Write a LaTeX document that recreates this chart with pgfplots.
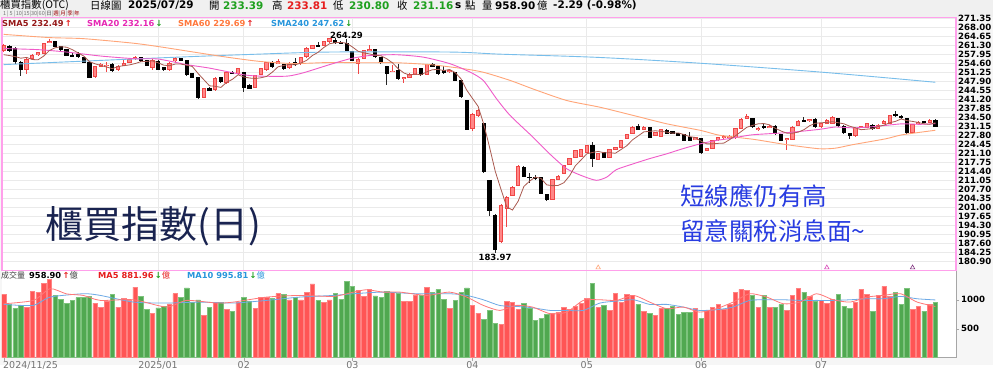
\documentclass[border=0pt]{standalone}
\usepackage{pgfplots}
\pgfplotsset{compat=1.18}
\usepackage{pgfplotstable}
\usepackage{fontspec}
\setmainfont{DejaVu Sans}
\newfontfamily\cjk{Noto Sans CJK TC}
\definecolor{upc}{RGB}{240,70,70}
\definecolor{upf}{RGB}{255,135,135}
\definecolor{vred}{RGB}{255,85,85}
\definecolor{vredl}{RGB}{255,130,130}
\definecolor{vgreen}{RGB}{80,168,80}
\definecolor{vgreenl}{RGB}{125,195,125}
\definecolor{s5c}{RGB}{170,90,80}
\definecolor{s20c}{RGB}{240,90,200}
\definecolor{s60c}{RGB}{255,165,120}
\definecolor{s240c}{RGB}{120,190,235}
\definecolor{pinkb}{RGB}{255,160,235}
\definecolor{gridc}{RGB}{234,234,234}
\definecolor{hdrbg}{RGB}{240,240,240}
\definecolor{bgc}{RGB}{246,246,246}
\definecolor{gtxt}{RGB}{30,160,30}
\definecolor{rtxt}{RGB}{230,30,30}
\definecolor{navy}{RGB}{25,35,80}
\definecolor{bluet}{RGB}{40,60,225}
\definecolor{s5t}{RGB}{150,25,25}
\definecolor{s20t}{RGB}{230,40,180}
\definecolor{s60t}{RGB}{255,120,60}
\definecolor{s240t}{RGB}{40,150,220}
\definecolor{vma5c}{RGB}{255,120,120}
\definecolor{vma10c}{RGB}{110,170,230}

\pgfplotstableread{
i o h l c v s
0 259.5 262.0 259.0 261.4 1091 257.9
1 261.1 261.6 258.9 259.3 919 257.6
2 260.3 260.8 254.6 255.2 850 257.2
3 255.2 255.5 249.9 252.4 902 256.6
4 252.2 256.8 250.6 256.2 873 256.9
5 256.4 258.0 256.0 257.6 1143 256.1
6 257.9 259.0 257.6 258.8 1131 256.0
7 258.4 262.2 258.2 262.0 1287 257.4
8 262.4 263.9 262.2 263.0 1350 259.5
9 263.0 263.2 260.8 261.0 1074 260.5
10 261.0 261.2 259.6 259.8 1005 260.9
11 259.9 260.1 257.5 257.7 942 260.7
12 257.8 258.6 257.1 257.3 988 259.8
13 258.0 259.0 256.9 257.1 1034 258.6
14 257.0 257.2 254.8 255.0 1045 257.4
15 255.2 255.4 249.3 249.5 1062 255.3
16 249.6 253.8 249.3 253.5 942 254.5
17 253.5 254.8 253.2 254.5 873 253.9
18 253.8 255.1 251.4 254.1 976 253.3
19 254.5 254.7 251.8 252.0 1086 252.7
20 252.2 253.9 251.9 253.6 873 253.5
21 253.9 256.0 253.6 254.6 1028 253.8
22 254.9 256.4 254.7 256.2 988 254.1
23 256.3 257.3 256.0 256.8 1218 254.6
24 256.8 257.0 255.3 255.5 1057 255.3
25 255.8 256.0 253.7 253.9 838 255.4
26 253.0 256.2 252.2 255.7 769 255.6
27 255.6 255.8 252.2 252.4 861 254.9
28 253.2 253.4 252.0 252.3 884 254.0
29 252.4 255.2 252.0 254.8 930 253.8
30 255.5 257.0 255.2 256.7 1103 254.4
31 256.5 256.8 255.6 255.8 1034 254.4
32 255.8 256.0 250.3 250.5 1206 254.0
33 250.8 251.0 249.3 249.5 959 253.5
34 249.5 249.7 241.5 241.8 999 250.9
35 241.9 245.5 241.7 245.2 729 248.6
36 245.4 245.8 244.3 244.6 873 246.3
37 244.8 249.5 244.5 249.2 959 246.1
38 249.5 249.7 247.4 247.7 959 245.7
39 247.3 251.5 247.0 251.2 827 247.6
40 251.3 251.9 250.8 251.0 804 248.7
41 250.8 252.9 250.5 252.7 959 250.4
42 251.2 251.5 244.0 245.5 1045 249.6
43 246.3 246.8 245.1 245.4 976 249.2
44 245.6 250.5 245.3 250.2 856 249.0
45 250.4 253.0 250.2 252.8 1034 249.3
46 252.2 255.3 252.0 255.1 1045 249.8
47 255.2 255.4 253.1 253.3 1028 251.4
48 254.5 256.2 254.3 255.4 1103 253.4
49 254.3 254.5 252.5 252.7 1086 253.9
50 252.9 255.0 252.7 254.8 999 254.3
51 255.0 256.6 254.0 254.2 1034 254.1
52 254.4 257.2 254.2 257.0 999 254.8
53 257.0 260.6 256.8 260.4 1131 255.8
54 260.1 261.6 259.9 261.4 1275 257.6
55 261.3 262.6 260.8 261.0 988 258.8
56 261.4 263.2 261.2 263.0 959 260.6
57 262.6 264.1 262.4 264.0 999 262.0
58 263.4 264.29 262.2 262.4 1103 262.4
59 262.4 263.0 261.8 262.1 1005 262.5
60 262.2 263.6 259.3 259.5 1321 262.2
61 259.0 259.2 255.6 255.8 1229 260.8
62 254.5 256.6 250.8 256.3 1160 259.2
63 256.5 259.8 256.3 259.5 1057 258.6
64 259.6 261.6 259.4 260.0 1172 258.2
65 259.8 260.0 256.8 257.0 1068 257.7
66 257.0 257.2 254.7 254.9 1034 257.5
67 253.6 253.8 246.7 250.8 1149 256.4
68 251.5 253.9 251.3 251.8 1120 254.9
69 252.0 254.5 248.7 248.9 1114 252.7
70 248.9 249.6 247.5 249.3 976 251.1
71 249.5 250.9 249.3 250.6 971 250.3
72 250.5 253.1 250.3 252.9 1074 250.7
73 252.9 253.1 250.2 250.4 1074 250.4
74 250.4 254.5 250.2 254.2 1218 251.5
75 254.2 254.8 253.4 253.6 1126 252.3
76 253.5 254.0 250.6 250.8 1172 252.4
77 252.0 253.7 251.0 251.2 1011 252.0
78 251.4 252.3 251.2 252.0 856 252.4
79 251.2 251.4 248.1 248.3 988 251.2
80 248.3 248.5 241.8 242.1 1120 248.9
81 240.8 241.0 229.8 230.0 1206 244.7
82 230.3 236.0 229.5 235.5 902 241.6
83 235.1 237.6 234.8 237.1 769 238.6
84 232.1 232.4 213.9 214.1 655 231.8
85 211.0 211.3 197.6 199.8 815 223.3
86 197.9 198.3 183.97 185.2 586 214.3
87 188.0 202.0 187.7 201.6 574 207.6
88 200.4 205.2 193.5 204.7 970 201.1
89 205.4 208.8 205.0 208.3 948 199.9
90 209.1 216.6 208.8 216.2 827 203.2
91 216.0 216.4 212.2 212.5 931 208.7
92 212.3 213.6 209.9 212.0 845 210.7
93 212.0 212.8 211.2 211.8 643 212.2
94 212.1 212.4 205.8 206.1 672 211.7
95 205.7 206.0 203.3 203.9 746 209.3
96 203.9 211.6 203.6 211.3 769 209.0
97 211.4 212.8 211.1 212.5 786 209.1
98 213.6 216.9 213.3 216.6 872 210.1
99 217.0 219.5 216.8 219.2 827 212.7
100 219.6 222.5 219.4 222.2 884 216.4
101 220.0 222.8 219.8 222.5 931 218.6
102 221.5 224.2 221.3 224.0 1028 220.9
103 224.1 225.3 215.9 219.2 1287 221.4
104 218.8 221.3 218.5 221.0 862 221.8
105 221.4 221.7 219.4 219.6 902 221.3
106 219.6 222.8 219.4 222.5 815 221.3
107 222.5 223.6 222.3 223.3 1103 221.1
108 223.3 226.2 223.1 225.9 959 222.5
109 226.6 228.4 226.4 228.1 1091 223.9
110 228.5 231.1 228.3 230.8 1080 226.1
111 231.1 231.9 229.8 230.0 919 227.6
112 230.0 231.1 229.8 230.8 798 229.1
113 230.8 231.0 226.8 227.0 758 229.3
114 227.8 229.2 227.6 228.9 729 229.5
115 227.4 230.3 227.2 230.0 845 229.3
116 229.6 230.2 228.3 228.5 845 229.0
117 229.2 229.5 228.3 228.5 890 228.6
118 228.5 228.8 227.6 227.8 741 228.7
119 228.1 228.4 225.7 225.9 786 228.1
120 227.0 228.9 225.7 225.9 786 227.3
121 226.2 227.3 226.0 227.0 855 227.0
122 226.6 226.8 220.8 221.4 672 225.6
123 222.2 223.1 221.9 222.9 815 224.6
124 222.9 226.2 222.7 225.9 872 224.6
125 226.0 227.3 225.8 227.0 914 224.8
126 226.8 227.8 226.6 227.5 827 224.9
127 227.1 228.0 226.9 227.5 919 226.2
128 226.8 230.6 226.6 230.3 1126 227.6
129 230.3 234.1 230.1 233.8 1178 229.2
130 234.0 235.6 233.8 235.0 1160 230.8
131 234.0 234.3 230.7 230.9 1074 231.5
132 230.0 230.9 229.6 230.5 862 232.1
133 231.3 232.1 230.5 230.7 1074 232.2
134 230.7 231.6 230.5 231.3 873 231.7
135 231.3 231.5 228.2 228.4 862 230.4
136 228.1 228.3 225.7 225.9 914 229.4
137 226.0 226.9 222.2 226.6 815 228.6
138 226.3 231.1 226.1 230.9 1074 228.6
139 231.3 233.4 231.1 233.1 1189 229.0
140 233.4 234.6 232.8 233.0 1131 229.9
141 233.1 233.8 232.9 233.6 1057 231.4
142 233.6 234.3 230.7 230.9 970 232.3
143 230.9 232.4 230.7 232.1 988 232.5
144 232.3 233.8 232.1 233.5 931 232.6
145 232.3 234.9 232.1 234.6 1000 232.9
146 234.0 234.3 231.0 231.25 1091 232.5
147 231.25 231.5 228.6 228.8 890 232.1
148 228.4 228.6 226.5 227.8 855 231.2
149 227.5 230.9 227.3 230.6 959 230.6
150 230.6 231.3 230.4 231.0 1172 229.9
151 230.6 232.4 230.4 232.1 1091 230.1
152 231.7 232.0 230.0 230.2 798 230.3
153 230.2 232.0 230.0 231.7 1074 231.1
154 232.1 233.4 231.9 233.1 1229 231.6
155 232.1 235.5 231.9 235.2 1062 232.5
156 235.6 237.0 234.8 235.0 1120 233.0
157 235.0 235.3 234.2 234.4 919 233.9
158 234.0 234.3 228.6 228.8 1189 233.3
159 228.8 232.1 228.6 231.8 827 233.0
160 232.0 233.0 231.8 232.8 890 232.6
161 232.9 233.2 232.4 232.6 804 232.1
162 232.6 233.8 232.4 233.45 914 231.9
163 233.39 233.81 230.80 231.16 958.9 232.49
}\ohlc

\pgfplotstableread{
i v
0 260.2
6 259.8
11 258.9
17 257.4
23 256.4
27 256.3
32 254.2
36 252.9
42 250.4
45 249.9
49.6 249.9
52.5 251.2
57 254.2
60.6 256.4
64 257.6
68.7 257.9
73.4 257.0
78 254.6
81.6 251.4
83.9 248.3
86.2 241.5
88.6 235.2
92.6 227.1
95.5 220.9
98.5 215.3
101.4 212.5
103.7 211.0
105.5 212.2
107.2 215.0
110.2 217.2
113 219.1
116 220.9
118.8 222.8
122 224.7
124.7 225.9
127 226.6
131 228.0
137 228.8
142.6 230.0
145.5 230.9
148.5 230.6
151.4 230.9
154.3 231.5
157.2 232.1
160.2 231.9
163 232.16
}\smatwenty

\pgfplotstableread{
i v
0 265.5
8 264.3
14 263.9
22.7 262.2
27.5 260.8
33.2 258.9
39 257.0
44.8 255.4
50.7 254.6
57 255.0
63 254.9
68.7 254.9
74.6 254.2
80.4 252.7
84 251.3
88.6 248.3
93 244.8
98.5 240.8
104.3 238.3
110.2 235.2
116 232.1
122 229.6
125.3 227.8
131.2 226.3
137 224.3
142.6 222.8
145.5 223.0
148.5 224.3
154.3 226.5
157.2 228.0
163 229.69
}\smasixty

\pgfplotstableread{
i v
0 254.2
27 256.7
43 258.0
57 258.9
78 258.9
87 258.1
104 256.9
122 254.7
143 251.4
163 247.62
}\smatwoforty

\pgfplotstableread{
i v
0 930
5.2 988
8.1 1190
11 1100
13.9 1074
16.9 988
22.7 999
28.5 873
32 988
37.3 942
40.2 959
46 1045
51.8 1074
57.7 1057
61.2 1131
63.5 1172
66.4 1131
69.3 1131
74 1074
78 1131
81 1045
83.9 902
86.8 815
89.7 902
92.5 873
95.6 758
98.5 786
101.4 988
104.3 999
107.2 988
110.2 1074
113 959
116 845
118.9 873
121.7 786
124.7 845
127.6 959
130.5 1103
133.5 1045
136.4 930
139.3 959
142.2 1103
145.1 999
148.1 959
151 1045
153.9 1074
156.9 1103
159.8 959
163 881.96
}\vmafive

\pgfplotstableread{
i v
0 919
5.2 902
8.1 1045
14 1103
16.9 1074
22.7 959
28.5 942
34.3 959
40.2 942
46 988
51.8 1045
57.7 1074
61.2 1103
66.4 1131
72.2 1103
78 1103
81 1074
83.9 999
86.8 900
89.7 884
92.5 861
95.6 815
98.5 815
101.4 815
104.3 942
107.2 976
110.2 999
113 919
116 919
118.9 873
121.7 815
124.7 827
127.6 873
130.5 988
133.5 999
136.4 999
139.3 988
142.2 988
145.1 988
148.1 999
151 1016
153.9 1016
156.9 1057
159.8 1016
163 995.81
}\vmaten

\newcommand\tickf{\bfseries\fontsize{8.6}{9}\selectfont}
\newcommand\hdrn{\bfseries\fontsize{10.4}{12}\selectfont}
\newcommand\hdrc{\cjk\fontsize{10.4}{12}\selectfont}
\newcommand\legf{\bfseries\fontsize{8.3}{9}\selectfont}

\begin{document}
\begin{tikzpicture}
\begin{scope}[x=1pt,y=-1pt]
\useasboundingbox (0,0) rectangle (993,365);
\fill[bgc] (0,0) rectangle (993,365);
\fill[hdrbg] (0,0) rectangle (993,17);
\end{scope}

% ---------- price panel ----------
\begin{axis}[
  at={(2pt,-17pt)}, anchor=north west, scale only axis,
  width=954pt, height=253pt,
  xmin=-0.3, xmax=166.6, ymin=177.36, ymax=271.84,
  axis background/.style={fill=white},
  axis line style={draw=pinkb, line width=1.3pt},
  xtick={27,42,61,82,102,122,143}, xticklabels={},
  xmajorgrids, ymajorgrids,
  major grid style={draw=gridc, line width=0.7pt},
  major tick length=0pt,
  ytick={180.90,184.25,187.60,190.95,194.30,197.65,201.00,204.35,207.70,211.05,214.40,217.75,221.10,224.45,227.80,231.15,234.50,237.85,241.20,244.55,247.90,251.25,254.60,257.95,261.30,264.65,268.00,271.35},
  yticklabel pos=right,
  yticklabel style={font=\tickf, anchor=west, inner sep=0pt, xshift=2pt,
     /pgf/number format/fixed, /pgf/number format/fixed zerofill, /pgf/number format/precision=2},
  /pgf/number format/assume math mode=true,
  scaled y ticks=false,
  unbounded coords=discard,
]
% up candles: wick, body border, body fill
\addplot[draw=none, mark=none, forget plot,
  restrict expr to domain={\thisrow{c}-\thisrow{o}}{0:1000},
  error bars/.cd, y dir=both, y explicit, error mark=none,
  error bar style={line width=1pt, draw=upc}]
  table[x=i, y=c, y error plus expr=\thisrow{h}-\thisrow{c}, y error minus expr=\thisrow{c}-\thisrow{l}]{\ohlc};
\addplot[draw=none, mark=none, forget plot,
  restrict expr to domain={\thisrow{c}-\thisrow{o}}{0:1000},
  error bars/.cd, y dir=both, y explicit, error mark=none,
  error bar style={line width=4.4pt, draw=upc}]
  table[x=i, y expr=(\thisrow{o}+\thisrow{c})/2, y error expr={abs(\thisrow{c}-\thisrow{o})/2+0.12}]{\ohlc};
\addplot[draw=none, mark=none, forget plot,
  restrict expr to domain={\thisrow{c}-\thisrow{o}}{0:1000},
  error bars/.cd, y dir=both, y explicit, error mark=none,
  error bar style={line width=2.4pt, draw=upf}]
  table[x=i, y expr=(\thisrow{o}+\thisrow{c})/2, y error expr={max(abs(\thisrow{c}-\thisrow{o})/2-0.25,0.01)}]{\ohlc};
% down candles
\addplot[draw=none, mark=none, forget plot,
  restrict expr to domain={\thisrow{c}-\thisrow{o}}{-1000:0},
  error bars/.cd, y dir=both, y explicit, error mark=none,
  error bar style={line width=1pt, draw=black!85}]
  table[x=i, y=c, y error plus expr=\thisrow{h}-\thisrow{c}, y error minus expr=\thisrow{c}-\thisrow{l}]{\ohlc};
\addplot[draw=none, mark=none, forget plot,
  restrict expr to domain={\thisrow{c}-\thisrow{o}}{-1000:0},
  error bars/.cd, y dir=both, y explicit, error mark=none,
  error bar style={line width=4.2pt, draw=black}]
  table[x=i, y expr=(\thisrow{o}+\thisrow{c})/2, y error expr={abs(\thisrow{c}-\thisrow{o})/2+0.12}]{\ohlc};
% moving averages
\addplot[s240c, line width=0.9pt, mark=none, smooth, tension=0.5] table[x=i,y=v]{\smatwoforty};
\addplot[s60c, line width=0.9pt, mark=none, smooth, tension=0.4] table[x=i,y=v]{\smasixty};
\addplot[s20c, line width=0.9pt, mark=none, smooth, tension=0.4] table[x=i,y=v]{\smatwenty};
\addplot[s5c, line width=0.8pt, mark=none] table[x=i,y=s]{\ohlc};
% signal triangles
\addplot[only marks, mark=triangle, mark size=2.6pt, mark options={draw=s60c, line width=0.6pt}] coordinates {(104,178.4)};
\addplot[only marks, mark=triangle, mark size=2.6pt, mark options={draw=s20c!80!violet, line width=0.6pt}] coordinates {(144,178.4)};
\addplot[only marks, mark=triangle, mark size=2.6pt, mark options={draw=violet!60!gray, line width=0.6pt}] coordinates {(159,178.4)};
\end{axis}

% ---------- volume panel ----------
\begin{axis}[
  at={(2pt,-271pt)}, anchor=north west, scale only axis,
  width=954pt, height=86.3pt,
  xmin=-0.3, xmax=166.6, ymin=0, ymax=1488,
  axis background/.style={fill=white},
  axis x line=bottom, axis y line=right,
  axis line style={draw=black!35, -},
  xtick={27,42,61,82,102,122,143}, xticklabels={2025/01,02,03,04,05,06,07},
  xticklabel style={font=\fontsize{9.5}{10}\selectfont, text=black!55, anchor=north, inner sep=1pt},
  xmajorgrids, major grid style={draw=gridc, line width=0.7pt},
  ytick={500,1000},
  yticklabel style={font=\tickf, anchor=west, inner sep=0pt, xshift=2pt, /pgf/number format/1000 sep={}},
  /pgf/number format/assume math mode=true,
  tick align=outside, major tick length=3pt, tick style={draw=black!35},
  scaled y ticks=false,
  unbounded coords=discard,
]
\addplot[ybar, bar width=4.4pt, bar shift=0pt, fill=vred, draw=vredl, line width=0.5pt,
  restrict expr to domain={\thisrow{c}-\thisrow{o}}{0:1000}] table[x=i,y=v]{\ohlc};
\addplot[ybar, bar width=4.4pt, bar shift=0pt, fill=vgreen, draw=vgreenl, line width=0.5pt,
  restrict expr to domain={\thisrow{c}-\thisrow{o}}{-1000:0}] table[x=i,y=v]{\ohlc};
\addplot[vma10c, line width=0.8pt, mark=none, smooth, tension=0.4] table[x=i,y=v]{\vmaten};
\addplot[vma5c, line width=0.8pt, mark=none, smooth, tension=0.4] table[x=i,y=v]{\vmafive};
\end{axis}

\begin{scope}[x=1pt,y=-1pt]
% first date tick and label
\draw[black!35] (3.7,357.3) -- (3.7,360.3);
\node[anchor=north west, inner sep=1pt, font=\fontsize{9.5}{10}\selectfont, text=black!55] at (2,360.3) {2024/11/25};

% header
\node[anchor=west, inner sep=0pt] at (0,5) {\hdrc 櫃買指數(OTC)};
\node[anchor=west, inner sep=0pt] at (90,5) {\hdrc 日線圖};
\node[anchor=west, inner sep=0pt] at (128,5) {\hdrn 2025/07/29};
\node[anchor=west, inner sep=0pt] at (209,5) {\hdrc 開};
\node[anchor=west, inner sep=0pt, text=gtxt] at (223,5) {\hdrn 233.39};
\node[anchor=west, inner sep=0pt] at (272,5) {\hdrc 高};
\node[anchor=west, inner sep=0pt, text=rtxt] at (287,5) {\hdrn 233.81};
\node[anchor=west, inner sep=0pt] at (333,5) {\hdrc 低};
\node[anchor=west, inner sep=0pt, text=gtxt] at (349,5) {\hdrn 230.80};
\node[anchor=west, inner sep=0pt] at (397,5) {\hdrc 收};
\node[anchor=west, inner sep=0pt, text=gtxt] at (413,5) {\hdrn 231.16};
\node[anchor=west, inner sep=0pt] at (455,5) {\hdrn s};
\node[anchor=west, inner sep=0pt] at (465,5) {\hdrc 點};
\node[anchor=west, inner sep=0pt] at (482,5) {\hdrc 量};
\node[anchor=west, inner sep=0pt] at (495,5) {\hdrn 958.90};
\node[anchor=west, inner sep=0pt] at (537,5) {\hdrc 億};
\node[anchor=west, inner sep=0pt] at (553,5) {\hdrn -2.29 (-0.98\%)};
% period buttons
\node[anchor=west, inner sep=0pt, text=black!55] at (3,13.2) {\cjk\fontsize{5.5}{6}\selectfont 1\,|\,5\,|\,10|15|30|60|\textcolor{black!70}{日}|\textcolor{red!60!black}{週}|\textcolor{red!60!black}{月}|\textcolor{red!60!black}{季}|\textcolor{red!60!black}{年}};

% SMA legend
\node[anchor=west, inner sep=0pt, text=s5t] at (2,22.7) {\legf SMA5 232.49\,\textcolor{rtxt}{↑}};
\node[anchor=west, inner sep=0pt, text=s20t] at (87,22.7) {\legf SMA20 232.16\,\textcolor{gtxt}{↓}};
\node[anchor=west, inner sep=0pt, text=s60t] at (178,22.7) {\legf SMA60 229.69\,\textcolor{rtxt}{↑}};
\node[anchor=west, inner sep=0pt, text=s240t] at (271,22.7) {\legf SMA240 247.62\,\textcolor{gtxt}{↓}};

% extreme labels
\node[inner sep=0pt] at (346.5,35.5) {\bfseries\fontsize{8.5}{9}\selectfont 264.29};
\node[inner sep=0pt] at (495,257) {\bfseries\fontsize{8.5}{9}\selectfont 183.97};

% volume legend
\node[anchor=west, inner sep=0pt, text=black!75] at (1,275) {\cjk\fontsize{8}{9}\selectfont 成交量};
\node[anchor=west, inner sep=0pt] at (29,275) {\legf 958.90\,\textcolor{rtxt}{↑}\textcolor{black!75}{\cjk\mdseries 億}};
\node[anchor=west, inner sep=0pt, text=rtxt] at (98,275) {\legf MA5 881.96\,\textcolor{gtxt}{↓}{\cjk\mdseries 億}};
\node[anchor=west, inner sep=0pt, text=s240t] at (187,275) {\legf MA10 995.81\,\textcolor{gtxt}{↓}{\cjk\mdseries 億}};

% annotations
\node[anchor=west, inner sep=0pt, text=navy] at (45,226) {\cjk\fontsize{38}{40}\selectfont 櫃買指數(日)};
\node[anchor=west, inner sep=0pt, text=bluet] at (680,196) {\cjk\fontsize{24.5}{26}\selectfont 短線應仍有高};
\node[anchor=west, inner sep=0pt, text=bluet] at (680,231) {\cjk\fontsize{24.5}{26}\selectfont 留意關稅消息面\char"007E};
\end{scope}
\end{tikzpicture}
\end{document}
